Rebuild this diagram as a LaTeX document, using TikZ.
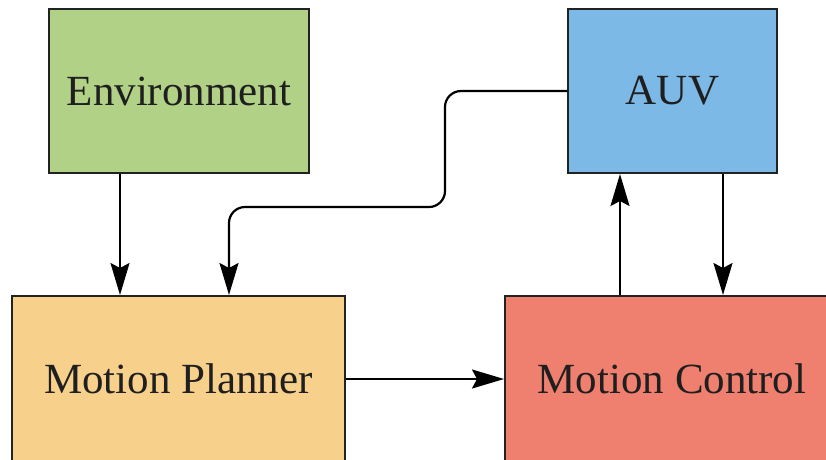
\documentclass[tikz,border=0pt]{standalone}
\usepackage{fontspec}
\setmainfont{Liberation Serif}
\usetikzlibrary{arrows.meta}
\definecolor{envc}{HTML}{B1D186}
\definecolor{auvc}{HTML}{7DB9E6}
\definecolor{planc}{HTML}{F7D08B}
\definecolor{ctrlc}{HTML}{EF7F6E}
\definecolor{edge}{HTML}{222222}
\begin{document}
\begin{tikzpicture}[x=1pt,y=-1pt,
  block/.style={draw=edge, line width=2pt, inner sep=0pt, font=\fontsize{43}{50}\selectfont, text=black!88},
  conn/.style={line width=2.2pt, -{Stealth[length=32pt,width=19pt,inset=5pt]}}]
\useasboundingbox (0,0) rectangle (826,459);
\clip (0,0) rectangle (826,459);
\node[block, fill=envc, minimum width=260pt, minimum height=164pt] (env) at (179,91) {Environment};
\node[block, fill=auvc, minimum width=209pt, minimum height=164pt] (auv) at (672.5,91) {AUV};
\node[block, fill=planc, minimum width=333pt, minimum height=166pt] (plan) at (178.5,379) {Motion Planner};
\node[block, fill=ctrlc, minimum width=334pt, minimum height=166pt] (ctrl) at (672,379) {Motion Control};
\coordinate (k1) at (445,91);
\coordinate (k2) at (445,207);
\coordinate (k3) at (229,207);
\draw[conn] (env.south -| 120,0) -- (plan.north -| 120,0);
\draw[conn, rounded corners=16pt] (auv.west) -- (k1) -- (k2) -- (k3) -- (plan.north -| k3);
\draw[conn] (plan.east) -- (ctrl.west);
\draw[conn] (ctrl.north -| 620,0) -- (auv.south -| 620,0);
\draw[conn] (auv.south -| 723,0) -- (ctrl.north -| 723,0);
\end{tikzpicture}
\end{document}
